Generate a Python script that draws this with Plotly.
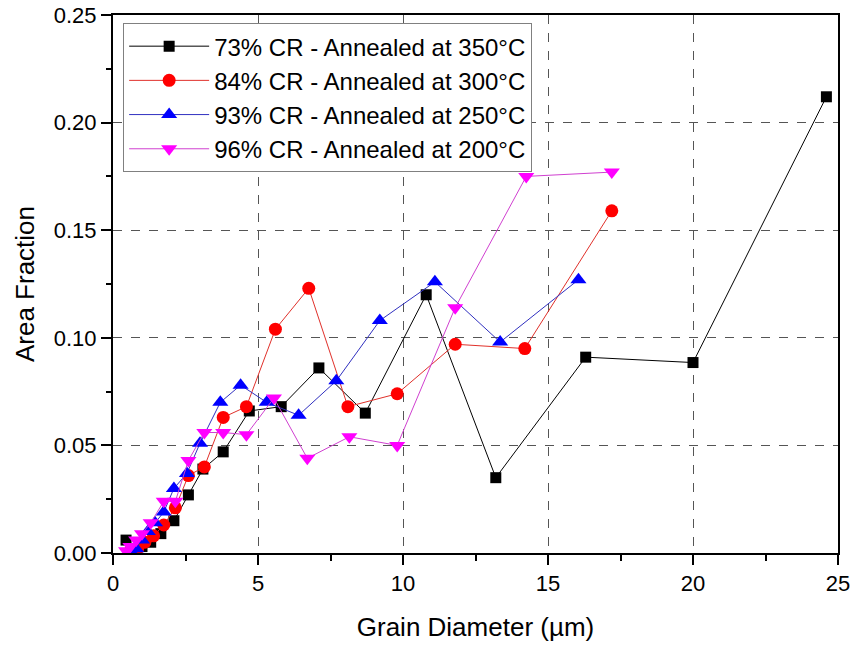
import plotly.graph_objects as go

series_names = [
    "73% CR - Annealed at 350°C",
    "84% CR - Annealed at 300°C",
    "93% CR - Annealed at 250°C",
    "96% CR - Annealed at 200°C",
]

x_73 = [0.45, 0.75, 1.0, 1.3, 1.65, 2.1, 2.6, 3.1, 3.8, 4.7, 5.8, 7.1, 8.7, 10.8, 13.2, 16.3, 20.0, 24.6]
y_73 = [0.006, 0.002, 0.003, 0.005, 0.009, 0.015, 0.027, 0.039, 0.047, 0.066, 0.068, 0.086, 0.065, 0.120, 0.035, 0.091, 0.0885, 0.212]

x_84 = [0.6, 0.85, 1.1, 1.4, 1.75, 2.15, 2.6, 3.15, 3.8, 4.6, 5.6, 6.75, 8.1, 9.8, 11.8, 14.2, 17.2]
y_84 = [0.001, 0.002, 0.005, 0.008, 0.013, 0.021, 0.036, 0.040, 0.063, 0.068, 0.104, 0.123, 0.068, 0.074, 0.097, 0.095, 0.159]

x_93 = [0.6, 0.8, 1.0, 1.2, 1.45, 1.75, 2.1, 2.55, 3.0, 3.7, 4.4, 5.3, 6.4, 7.7, 9.2, 11.1, 13.35, 16.05]
y_93 = [0.001, 0.002, 0.006, 0.010, 0.014, 0.019, 0.030, 0.037, 0.051, 0.070, 0.078, 0.070, 0.064, 0.080, 0.108, 0.126, 0.098, 0.127]

x_96 = [0.45, 0.6, 0.8, 1.0, 1.3, 1.75, 2.15, 2.6, 3.15, 3.8, 4.6, 5.55, 6.7, 8.15, 9.8, 11.8, 14.25, 17.2]
y_96 = [0.001, 0.003, 0.006, 0.009, 0.014, 0.024, 0.024, 0.043, 0.056, 0.056, 0.055, 0.072, 0.044, 0.054, 0.050, 0.114, 0.175, 0.177]

xs = [x_73, x_84, x_93, x_96]
ys = [y_73, y_84, y_93, y_96]
line_colors = ["#000000", "#e0302a", "#3030c0", "#d040d0"]
marker_colors = ["#000000", "#ff0000", "#0000ff", "#ff00ff"]
symbols = ["square", "circle", "triangle-up", "triangle-down"]
sizes = [11, 13, 14, 14]

fig = go.Figure()
for name, x, y, lc, mc, sym, sz in zip(series_names, xs, ys, line_colors, marker_colors, symbols, sizes):
    fig.add_trace(go.Scatter(
        x=x, y=y, name=name, mode="lines+markers",
        line=dict(color=lc, width=1),
        marker=dict(symbol=sym, size=sz, color=mc, line=dict(width=0)),
    ))

tick_font = dict(family="Liberation Sans, Arial", size=22, color="black")
title_font = dict(family="Liberation Sans, Arial", size=26, color="black")

fig.update_layout(
    width=853, height=646,
    margin=dict(l=113, r=15, t=15, b=93),
    plot_bgcolor="white", paper_bgcolor="white",
    showlegend=True,
    legend=dict(
        x=0.014, y=0.985, xanchor="left", yanchor="top",
        bgcolor="white", bordercolor="#808080", borderwidth=1,
        font=dict(family="Liberation Sans, Arial", size=24, color="black"),
        itemwidth=80, tracegroupgap=0,
    ),
    xaxis=dict(
        range=[0, 25], tickvals=[0, 5, 10, 15, 20, 25],
        ticks="outside", ticklen=10, tickwidth=2, tickcolor="black",
        minor=dict(dtick=2.5, tick0=0, ticks="outside", ticklen=6, tickwidth=2, tickcolor="black", showgrid=False),
        showline=True, linecolor="black", linewidth=2, mirror=True,
        showgrid=True, gridcolor="#555555", griddash="dash", gridwidth=1,
        zeroline=False, tickfont=tick_font, automargin=False,
        title=dict(text="Grain Diameter (µm)", font=title_font, standoff=22),
    ),
    yaxis=dict(
        range=[0, 0.25], tickvals=[0, 0.05, 0.10, 0.15, 0.20, 0.25],
        tickformat=".2f",
        ticks="outside", ticklen=10, tickwidth=2, tickcolor="black",
        minor=dict(dtick=0.025, tick0=0, ticks="outside", ticklen=5, tickwidth=2, tickcolor="black", showgrid=False),
        showline=True, linecolor="black", linewidth=2, mirror=True,
        showgrid=True, gridcolor="#555555", griddash="dash", gridwidth=1,
        zeroline=False, tickfont=tick_font, automargin=False,
        title=dict(text="Area Fraction", font=title_font, standoff=12),
    ),
)

fig.write_html("out.html")
